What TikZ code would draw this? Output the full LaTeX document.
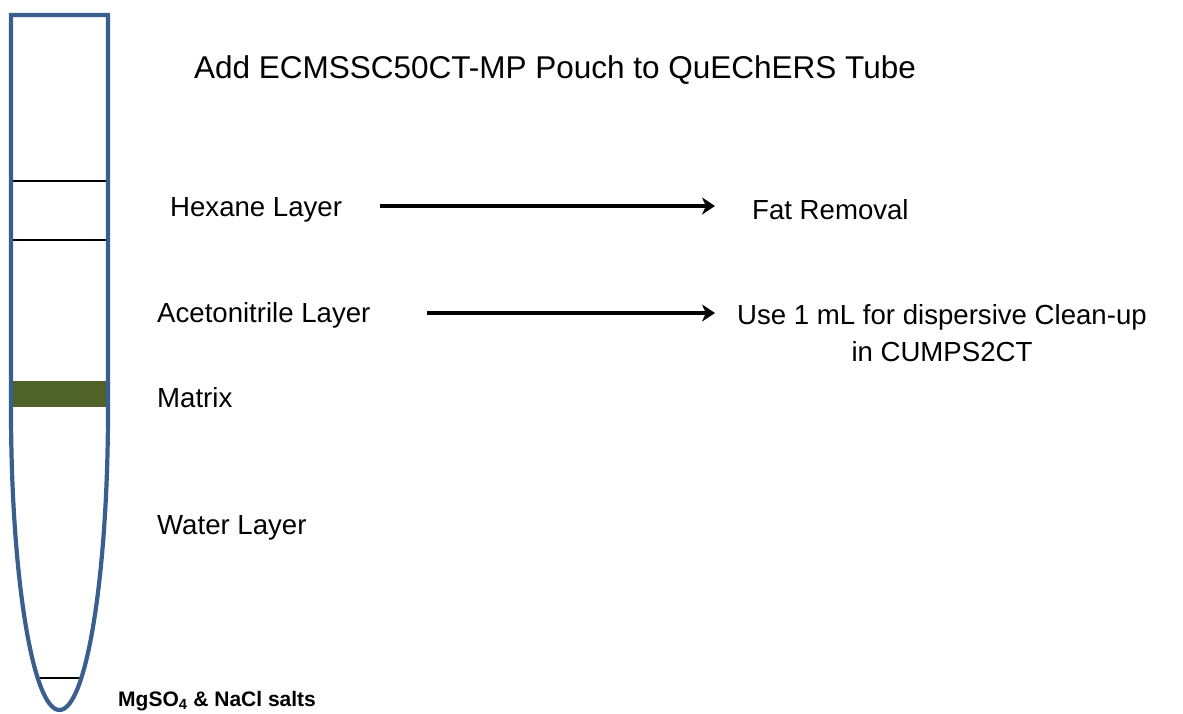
\documentclass[tikz,border=0pt]{standalone}
\usepackage{fontspec}
\setmainfont{Liberation Sans}
\usetikzlibrary{arrows, arrows.meta, positioning}
\definecolor{tubeblue}{RGB}{58,95,143}
\definecolor{matrixgreen}{RGB}{79,98,40}
\tikzstyle{arrow}   = [line width=4pt,-{Stealth[length=13pt,width=17pt,inset=4pt]}]
\tikzstyle{txt}     = [anchor=west, inner sep=0pt, font=\fontsize{27.6}{37}\selectfont]
\tikzstyle{layer}   = [line width=1.4pt]

\begin{document}
\begin{tikzpicture}[x=1pt,y=-1pt]
\useasboundingbox (0,0) rectangle (1183,713);

% tube
\fill[matrixgreen] (10,381) rectangle (110,407);
\draw[layer] (11,181) -- (108,181);
\draw[layer] (11,240) -- (108,240);
\draw[layer] (37,678) -- (83,678);
\draw[tubeblue, line width=4.2pt] (11,410) -- (11,15) -- (108,15) -- (108,410)
  arc[start angle=0, end angle=180, x radius=48.5, y radius=300];

\node[txt, anchor=center, font=\fontsize{31.5}{37}\selectfont] (title) at (555,70) {Add ECMSSC50CT-MP Pouch to QuEChERS Tube};
\node[txt] (hexane)  at (170,210) {Hexane Layer};
\node[txt] (fat)     at (752,210) {Fat Removal};
\node[txt] (aceto)   at (157,315) {Acetonitrile Layer};
\node[txt, align=center] (cleanup) at (737,333) {Use 1 mL for dispersive Clean-up\\in CUMPS2CT};
\node[txt] (matrix)  at (157,398) {Matrix};
\node[txt] (water)   at (157,528) {Water Layer};
\node[txt, font=\fontsize{21}{25}\selectfont\bfseries] (salts) at (118,701) {MgSO\textsubscript{4} \& NaCl salts};

\draw[arrow, shorten <=38pt, shorten >=37pt] ([yshift=4pt]hexane.east) -- ([yshift=4pt]fat.west);
\draw[arrow, shorten <=56pt, shorten >=22pt] ([yshift=2pt]aceto.east) -- ([yshift=2pt]aceto.east -| cleanup.west);

\end{tikzpicture}
\end{document}
